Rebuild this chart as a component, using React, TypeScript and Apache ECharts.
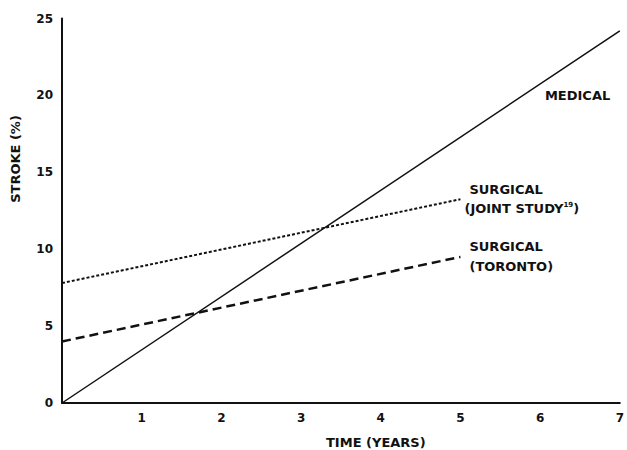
import React, { useEffect, useRef } from "react";
import * as echarts from "echarts";

const xTicks = [0, 1, 2, 3, 4, 5, 6, 7];
const yTicks = [0, 5, 10, 15, 20, 25];
const medicalYears = [0, 7];
const medicalStroke = [0, 24.2];
const jointYears = [0, 5];
const jointStroke = [7.8, 13.25];
const torontoYears = [0, 5];
const torontoStroke = [4.0, 9.5];

const FONT = "DejaVu Sans";

export default function App() {
  const ref = useRef<HTMLDivElement>(null);
  useEffect(() => {
    if (!ref.current) return;
    const chart = echarts.init(ref.current, undefined, { renderer: "svg" });
    const txt = { fontFamily: FONT, fontWeight: "bold" as const, color: "#111" };
    chart.setOption({
      animation: false,
      backgroundColor: "#fff",
      grid: { left: 62, right: 4, top: 18.5, bottom: 47, containLabel: false },
      xAxis: {
        type: "value",
        min: xTicks[0],
        max: xTicks[xTicks.length - 1],
        interval: 1,
        axisLine: { show: true, lineStyle: { color: "#111", width: 2 } },
        axisTick: { show: false },
        splitLine: { show: false },
        axisLabel: {
          ...txt,
          fontSize: 12,
          margin: 9,
          formatter: (v: number) => (v === 0 ? "" : String(v)),
        },
      },
      yAxis: {
        type: "value",
        min: yTicks[0],
        max: yTicks[yTicks.length - 1],
        interval: 5,
        axisLine: { show: true, lineStyle: { color: "#111", width: 2 } },
        axisTick: { show: false },
        splitLine: { show: false },
        axisLabel: { ...txt, fontSize: 12, margin: 9 },
      },
      graphic: [
        {
          type: "text",
          left: 376 - 50,
          top: 436,
          style: { text: "TIME (YEARS)", font: `bold 13px "${FONT}"`, fill: "#111" },
        },
        {
          type: "text",
          x: 15,
          y: 159,
          rotation: Math.PI / 2,
          style: {
            text: "STROKE (%)",
            font: `bold 13px "${FONT}"`,
            fill: "#111",
            align: "center",
            verticalAlign: "middle",
          },
        },
      ],
      series: [
        {
          type: "line",
          name: "MEDICAL",
          data: medicalYears.map((x, i) => [x, medicalStroke[i]]),
          showSymbol: false,
          symbol: "none",
          lineStyle: { color: "#111", width: 1.5, type: "solid" },
          markPoint: {
            symbol: "circle",
            symbolSize: 0,
            data: [{ coord: [6.47, 20.0] }],
            label: {
              show: true,
              position: "inside",
              formatter: "MEDICAL",
              ...txt,
              fontSize: 13,
            },
          },
        },
        {
          type: "line",
          name: "SURGICAL (JOINT STUDY)",
          data: jointYears.map((x, i) => [x, jointStroke[i]]),
          showSymbol: false,
          symbol: "none",
          lineStyle: { color: "#111", width: 2, type: [3, 2] },
          endLabel: {
            show: true,
            distance: 4,
            formatter: "{a|SURGICAL}\n{b|(JOINT STUDY}{s|19}{b|)}",
            rich: {
              a: { ...txt, fontSize: 13, lineHeight: 19, padding: [0, 0, 0, 5] },
              b: { ...txt, fontSize: 13, lineHeight: 19 },
              s: { ...txt, fontSize: 7, lineHeight: 19, padding: [0, 0, 8, 0] },
            },
          },
        },
        {
          type: "line",
          name: "SURGICAL (TORONTO)",
          data: torontoYears.map((x, i) => [x, torontoStroke[i]]),
          showSymbol: false,
          symbol: "none",
          lineStyle: { color: "#111", width: 2.5, type: [9, 5] },
          endLabel: {
            show: true,
            distance: 9,
            formatter: "{a|SURGICAL}\n{a|(TORONTO)}",
            rich: {
              a: { ...txt, fontSize: 13, lineHeight: 20 },
            },
          },
        },
      ],
    });
    return () => chart.dispose();
  }, []);
  return (
    <div
      ref={ref}
      style={{ position: "absolute", left: 0, top: 0, width: 627, height: 450 }}
    />
  );
}
